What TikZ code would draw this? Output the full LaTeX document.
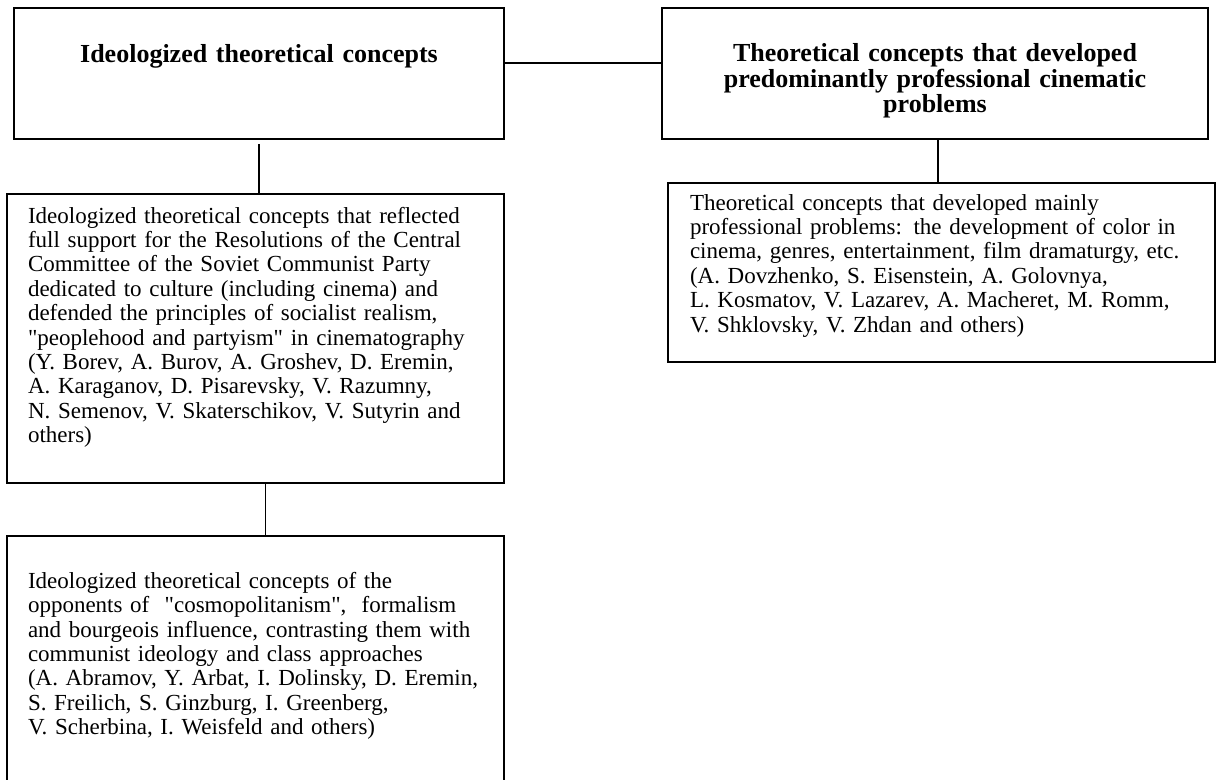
\documentclass[tikz,border=0pt]{standalone}
\usepackage{fontspec}
\setmainfont{Liberation Serif}
\begin{document}
\begin{tikzpicture}[
  x=0.5pt, y=-0.5pt,
  every node/.style={draw, line width=0.8pt, anchor=north west, inner ysep=0pt, outer sep=0pt},
  title/.style={align=center, font=\fontsize{13}{12.6}\selectfont\bfseries, inner xsep=10pt},
  body/.style={align=left, font=\fontsize{11.5}{12.2}\selectfont, inner xsep=10.5pt},
  link/.style={line width=0.6pt}
]
  \useasboundingbox (0,0) rectangle (1216,780);

  \node[title, text width=225pt, text height=27.5pt, text depth=38pt] (ideo) at (14,8)
    {Ideologized theoretical concepts};
  \node[title, text width=253pt, text height=27pt, text depth=38.5pt] (prof) at (662,8)
    {Theoretical concepts that developed\\ predominantly professional cinematic\\ problems};

  \node[body, text width=227.5pt, text height=14.6pt, text depth=129.9pt] (party) at (7,194)
    {Ideologized theoretical concepts that reflected\\
     full support for the Resolutions of the Central\\
     Committee of the Soviet Communist Party\\
     dedicated to culture (including cinema) and\\
     defended the principles of socialist realism,\\
     \textquotedbl peoplehood and partyism\textquotedbl{} in cinematography\\
     (Y. Borev, A. Burov, A. Groshev, D. Eremin,\\
     A. Karaganov, D. Pisarevsky, V. Razumny,\\
     N. Semenov, V. Skaterschikov, V. Sutyrin and\\
     others)};
  \node[body, text width=227.5pt, text height=26.1pt, text depth=105.9pt] (cosmo) at (7,536)
    {Ideologized theoretical concepts of the\\
     opponents of~ \textquotedbl cosmopolitanism\textquotedbl,~ formalism\\
     and bourgeois influence, contrasting them with\\
     communist ideology and class approaches\\
     (A. Abramov, Y. Arbat, I. Dolinsky, D. Eremin,\\
     S. Freilich, S. Ginzburg, I. Greenberg,\\
     V. Scherbina, I. Weisfeld and others)};
  \node[body, inner xsep=11pt, text width=251.5pt, text height=13.6pt, text depth=75.9pt] (craft) at (668,183)
    {Theoretical concepts that developed mainly\\
     professional problems: the development of color in\\
     cinema, genres, entertainment, film dramaturgy, etc.\\
     (A. Dovzhenko, S. Eisenstein, A. Golovnya,\\
     L. Kosmatov, V. Lazarev, A. Macheret, M. Romm,\\
     V. Shklovsky, V. Zhdan and others)};

  \draw[link] ([yshift=5.25pt]ideo.east) -- ([yshift=5.25pt]prof.west);
  \draw[link, shorten <=2.5pt] (ideo.south) -- (ideo.south |- party.north);
  \draw[link] ([xshift=5pt]party.south) -- ([xshift=5pt]party.south |- cosmo.north);
  \draw[link] ([xshift=1.5pt]prof.south) -- ([xshift=1.5pt]prof.south |- craft.north);
\end{tikzpicture}
\end{document}
